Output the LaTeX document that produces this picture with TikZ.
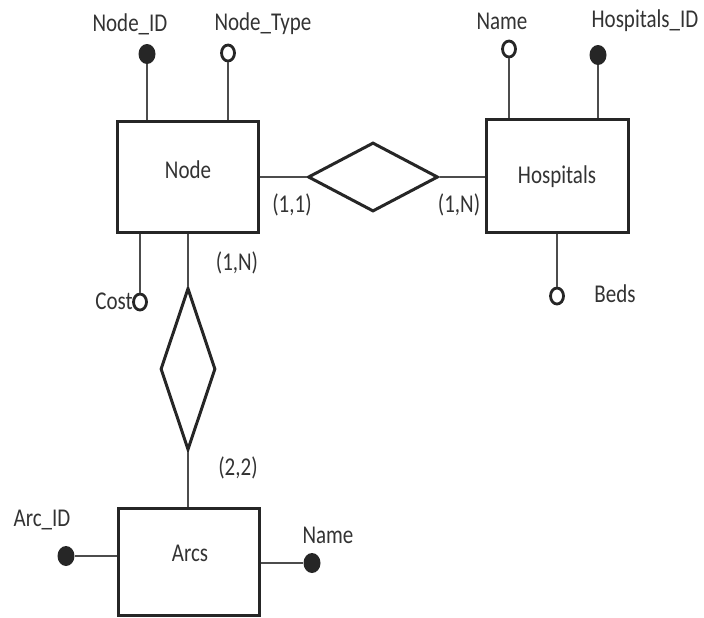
\documentclass[tikz,border=0pt]{standalone}
\usepackage{fontspec}
\setmainfont{Carlito}
\usetikzlibrary{shapes.geometric}
\newcommand\stretchtxt[1]{\scalebox{1}[1.22]{#1}}
\begin{document}
\begin{tikzpicture}[x=0.5pt,y=-0.5pt,
  ent/.style={draw=black!85, line width=1.5pt, rectangle, inner sep=0pt},
  rel/.style={draw=black!85, line width=1.5pt, diamond, inner sep=0pt},
  keyatt/.style={ellipse, fill=black!85, minimum width=8.5pt, minimum height=10pt, inner sep=0pt},
  att/.style={ellipse, draw=black!85, line width=1.4pt, fill=white, minimum width=6.5pt, minimum height=8pt, inner sep=0pt},
  lbl/.style={text=black!80, font=\fontsize{10.5}{12}\selectfont, inner sep=0pt},
  con/.style={draw=black!70, line width=0.7pt}]
\useasboundingbox (0,0) rectangle (704,617);

% entities
\node[ent, minimum width=70.5pt, minimum height=55.5pt] (node) at (187.5,177) {};
\node[lbl] (nodetxt) at (188,170) {\stretchtxt{Node}};
\node[ent, minimum width=71pt, minimum height=56.5pt] (hosp) at (557,175.5) {};
\node[lbl] (hosptxt) at (557,177) {\stretchtxt{Hospitals}};
\node[ent, minimum width=70.5pt, minimum height=53.5pt] (arcs) at (188.5,561.5) {};
\node[lbl] (arcstxt) at (190,553) {\stretchtxt{Arcs}};

% relationships
\node[rel, minimum width=65pt, minimum height=34.5pt] (r1) at (373,177) {};
\node[rel, minimum width=27.5pt, minimum height=81pt] (r2) at (188,369) {};

% attributes
\node[keyatt] (nid) at (147,54) {};
\node[lbl] (nidtxt) at (130,24) {\stretchtxt{Node\_ID}};
\node[att] (ntype) at (228,53) {};
\node[lbl] (ntypetxt) at (263,24) {\stretchtxt{Node\_Type}};
\node[att] (cost) at (140,302) {};
\node[lbl, anchor=east] (costtxt) at (133,301) {\stretchtxt{Cost}};

\node[att] (hname) at (509,49) {};
\node[lbl] (hnametxt) at (502,21) {\stretchtxt{Name}};
\node[keyatt] (hid) at (598,55) {};
\node[lbl] (hidtxt) at (645,21) {\stretchtxt{Hospitals\_ID}};
\node[att] (beds) at (557,296) {};
\node[lbl] (bedstxt) at (615,294) {\stretchtxt{Beds}};

\node[keyatt] (aid) at (66,556) {};
\node[lbl] (aidtxt) at (42,520) {\stretchtxt{Arc\_ID}};
\node[keyatt] (aname) at (312,563) {};
\node[lbl] (anametxt) at (328,535) {\stretchtxt{Name}};

% cardinalities
\node[lbl] (c11) at (292,205) {\stretchtxt{(1,1)}};
\node[lbl] (c1n) at (459,205) {\stretchtxt{(1,N)}};
\node[lbl] (c1nv) at (237,263) {\stretchtxt{(1,N)}};
\node[lbl] (c22) at (238,468) {\stretchtxt{(2,2)}};

% connectors
\draw[con] (nid) -- (node.north -| nid);
\draw[con] (ntype) -- (node.north -| ntype);
\draw[con] (cost) -- (node.south -| cost);
\draw[con] (hname) -- (hosp.north -| hname);
\draw[con] (hid) -- (hosp.north -| hid);
\draw[con] (beds) -- (hosp.south -| beds);
\draw[con] (node.east |- r1) -- (r1.west);
\draw[con] (r1.east) -- (hosp.west |- r1);
\draw[con] (node.south -| r2) -- (r2.north);
\draw[con] (r2.south) -- (arcs.north -| r2);
\draw[con] (aid) -- (arcs.west |- aid);
\draw[con] (arcs.east |- aname) -- (aname);
\end{tikzpicture}
\end{document}
